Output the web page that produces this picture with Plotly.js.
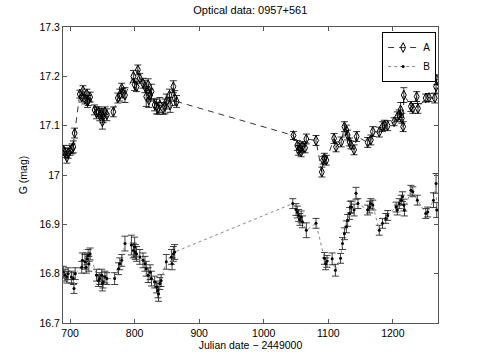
<!DOCTYPE html>
<html>
<head>
<meta charset="utf-8">
<script src="https://cdn.plot.ly/plotly-3.0.1.min.js"></script>
<style>html,body{margin:0;padding:0;background:#fff;}#chart{width:485px;height:363px;}</style>
</head>
<body>
<div id="chart"></div>
<script>
// Series A (open diamonds, dashed line)
const dateA = [
  690,692,695,697,700,703,705,707,
  715,718,720,723,726,727,728,731,
  738,741,744,746,749,750,751,754,757,
  767,
  774,777,780,782,785,
  798,800,803,805,808,
  813,816,818,821,822,824,826,
  831,834,836,839,844,847,849,
  854,855,860,862,865,
  1046,1052,1054,1056,1058,1060,1064,1066,
  1081,
  1090,1092,1094,1097,
  1109,1112,1120,
  1125,1128,1130,1133,1135,1140,1144,
  1161,1166,1169,
  1179,1184,1187,1192,
  1202,1207,1210,1212,1214,1216,1217,
  1228,1231,1237,1239,
  1251,1256,1265,1267,1268
];
const magA = [
  17.050,17.045,17.036,17.044,17.050,17.053,17.057,17.085,
  17.164,17.158,17.171,17.154,17.164,17.149,17.151,17.158,
  17.132,17.126,17.128,17.122,17.125,17.108,17.118,17.128,17.122,
  17.128,
  17.156,17.162,17.176,17.166,17.162,
  17.200,17.183,17.179,17.213,17.196,
  17.186,17.179,17.159,17.183,17.152,17.162,17.169,
  17.142,17.139,17.135,17.142,17.135,17.139,17.149,
  17.162,17.142,17.179,17.156,17.149,
  17.080,17.060,17.050,17.055,17.047,17.058,17.055,17.073,
  17.070,
  17.006,17.030,17.034,17.030,
  17.074,17.057,17.067,
  17.098,17.091,17.081,17.067,17.061,17.051,17.078,
  17.066,17.071,17.088,
  17.087,17.098,17.101,17.100,
  17.108,17.118,17.122,17.132,17.115,17.098,17.162,
  17.139,17.135,17.159,17.135,
  17.156,17.157,17.156,17.179,17.193
];
const errA = [
  0.010,0.010,0.012,0.010,0.010,0.010,0.012,0.010,
  0.008,0.010,0.010,0.010,0.010,0.012,0.010,0.010,
  0.010,0.012,0.010,0.012,0.010,0.015,0.012,0.010,0.012,
  0.010,
  0.010,0.012,0.010,0.010,0.015,
  0.012,0.012,0.010,0.010,0.010,
  0.010,0.012,0.020,0.012,0.015,0.012,0.015,
  0.012,0.015,0.012,0.015,0.012,0.015,0.015,
  0.012,0.015,0.012,0.015,0.012,
  0.008,0.010,0.010,0.010,0.010,0.010,0.010,0.010,
  0.010,
  0.010,0.008,0.010,0.010,
  0.010,0.010,0.010,
  0.010,0.010,0.010,0.008,0.008,0.010,0.010,
  0.010,0.010,0.010,
  0.010,0.010,0.010,0.010,
  0.008,0.010,0.010,0.015,0.010,0.010,0.015,
  0.010,0.010,0.010,0.010,
  0.008,0.008,0.010,0.015,0.010
];

// Series B (dots, dotted line)
const dateB = [
  689.5,692,695,697,702,705,706,708,
  718,719,723,725,726,728,729,731,
  741,744,746,749,750,751,754,757,
  769,
  775,777,780,
  785,
  795,798,800,801,803,
  808,813,816,818,821,824,826,
  831,834,836,837,839,841,
  849,857,858,860,862,
  1045,1050,1052,1054,1056,1058,1060,1066,
  1081,
  1094,1096,1098,1106,1111,1119,
  1122,1125,1128,1130,1133,1134,1136,1140,1143,1146,
  1161,1164,1166,1169,
  1179,1184,1189,1192,
  1205,1207,1210,1213,1215,1217,1218,
  1228,1231,1238,
  1251,1254,
  1263,1267,1268
];
const magB = [
  16.803,16.797,16.793,16.800,16.793,16.790,16.770,16.800,
  16.813,16.827,16.824,16.813,16.830,16.837,16.820,16.840,
  16.797,16.786,16.790,16.797,16.780,16.783,16.793,16.790,
  16.790,
  16.810,16.820,16.827,
  16.861,
  16.858,16.847,16.854,16.844,16.840,
  16.834,16.827,16.820,16.810,16.797,16.803,16.790,
  16.783,16.773,16.766,16.759,16.780,16.786,
  16.824,16.834,16.820,16.840,16.844,
  16.942,16.930,16.925,16.918,16.910,16.915,16.905,16.888,
  16.902,
  16.831,16.820,16.825,16.830,16.807,16.831,
  16.861,16.881,16.895,16.908,16.922,16.935,16.935,16.929,16.963,16.942,
  16.929,16.935,16.942,16.939,
  16.888,16.902,16.912,16.918,
  16.935,16.929,16.942,16.949,16.956,16.939,16.929,
  16.969,16.966,16.949,
  16.922,16.925,
  16.949,16.983,16.929
];
const errB = [
  0.012,0.012,0.012,0.012,0.012,0.012,0.010,0.012,
  0.012,0.015,0.015,0.012,0.012,0.012,0.015,0.012,
  0.012,0.012,0.012,0.012,0.015,0.012,0.012,0.012,
  0.012,
  0.012,0.012,0.012,
  0.015,
  0.020,0.015,0.020,0.015,0.015,
  0.015,0.015,0.015,0.015,0.015,0.015,0.015,
  0.012,0.012,0.015,0.015,0.012,0.012,
  0.015,0.015,0.012,0.015,0.015,
  0.010,0.012,0.012,0.012,0.012,0.012,0.012,0.015,
  0.010,
  0.012,0.012,0.012,0.012,0.012,0.010,
  0.012,0.012,0.012,0.012,0.012,0.012,0.012,0.012,0.012,0.010,
  0.010,0.012,0.010,0.010,
  0.010,0.010,0.010,0.010,
  0.010,0.010,0.010,0.010,0.010,0.012,0.012,
  0.010,0.010,0.010,
  0.010,0.010,
  0.015,0.020,0.015
];

const xTicks = [700, 800, 900, 1000, 1100, 1200];
const yTicks = [16.7, 16.8, 16.9, 17, 17.1, 17.2, 17.3];
const yTickText = ['16.7', '16.8', '16.9', '17', '17.1', '17.2', '17.3'];

const FONT = 'Liberation Sans, Arial, Helvetica, sans-serif';

const traces = [
  {
    x: dateA, y: magA, name: 'A', type: 'scatter', mode: 'lines+markers',
    line: {color: '#000', width: 0.8, dash: '6px,5px'},
    marker: {symbol: 'diamond-tall-open', size: 7, color: '#000', line: {width: 1, color: '#000'}},
    error_y: {type: 'data', array: errA, visible: true, color: '#000', thickness: 0.8, width: 3.5}
  },
  {
    x: dateB, y: magB, name: 'B', type: 'scatter', mode: 'lines+markers',
    line: {color: '#888', width: 1, dash: 'dot'},
    marker: {symbol: 'circle', size: 3, color: '#000'},
    error_y: {type: 'data', array: errB, visible: true, color: '#111', thickness: 0.8, width: 3.5}
  }
];

const axisCommon = {
  showgrid: false, zeroline: false, showline: true, linecolor: '#555', linewidth: 1,
  mirror: 'ticks', ticks: 'inside', ticklen: 4, tickcolor: '#555',
  tickfont: {family: FONT, size: 10.5, color: '#000'}
};

const layout = {
  width: 485, height: 363,
  margin: {l: 63, r: 47, t: 27, b: 40},
  paper_bgcolor: '#fff', plot_bgcolor: '#fff',
  font: {family: FONT, size: 10.5, color: '#000'},
  title: {text: 'Optical data: 0957+561', font: {family: FONT, size: 11, color: '#000'}, x: 0.516, xanchor: 'center', y: 0.972, yanchor: 'middle'},
  xaxis: Object.assign({}, axisCommon, {
    range: [689, 1270], tickvals: xTicks,
    title: {text: 'Julian date \u2212 2449000', font: {family: FONT, size: 10.5, color: '#000'}, standoff: 3}
  }),
  yaxis: Object.assign({}, axisCommon, {
    range: [16.7, 17.3], tickvals: yTicks, ticktext: yTickText,
    title: {text: 'G (mag)', font: {family: FONT, size: 10.5, color: '#000'}, standoff: 9}
  }),
  showlegend: true,
  legend: {
    x: 0.995, y: 0.983, xanchor: 'right', yanchor: 'top',
    bgcolor: '#fff', bordercolor: '#000', borderwidth: 1,
    font: {family: FONT, size: 10, color: '#000'},
    tracegroupgap: 0, itemwidth: 30
  }
};

Plotly.newPlot('chart', traces, layout, {displayModeBar: false, staticPlot: true});
</script>
</body>
</html>
